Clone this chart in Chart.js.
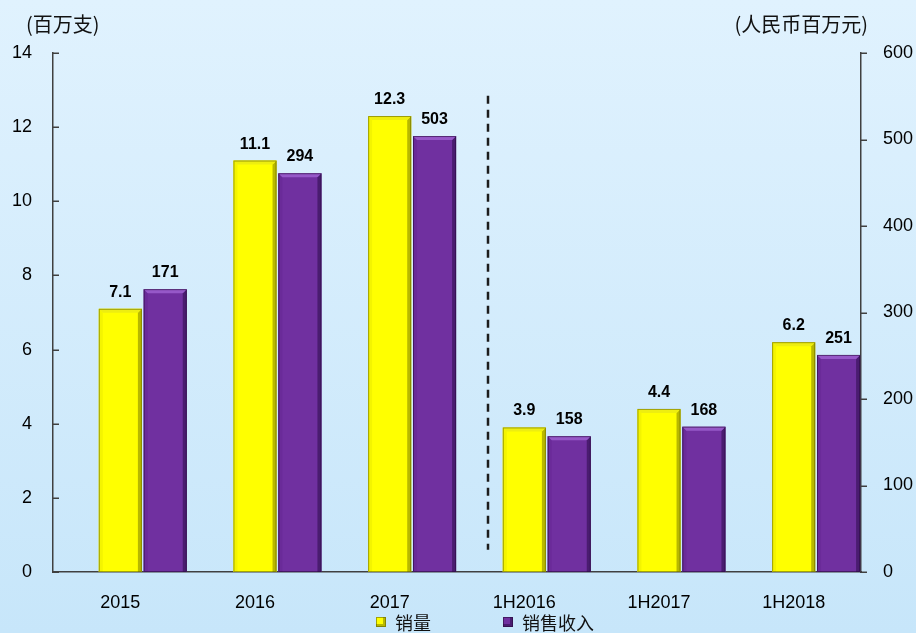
<!DOCTYPE html>
<html>
<head>
<meta charset="utf-8">
<script src="https://cdn.jsdelivr.net/npm/chart.js@4.4.0/dist/chart.umd.min.js"></script>
<style>
html, body { margin: 0; padding: 0; }
body { width: 916px; height: 633px; overflow: hidden; background: linear-gradient(#e0f2fe, #c7e6fa); }
canvas { display: block; }
</style>
</head>
<body>
<canvas id="sales" width="916" height="633"></canvas>
<script>
// chart data
const categories = ['2015', '2016', '2017', '1H2016', '1H2017', '1H2018']
const volume = [7.1, 11.1, 12.3, 3.9, 4.4, 6.2]              // 百万支 (left axis)
const revenueBars = [327, 461, 504, 157, 168, 251]          // bar heights as drawn (right axis)
const revenueLabels = ['171', '294', '503', '158', '168', '251']
const seriesNames = ['销量', '销售收入']
const axisTitles = ['(百万支)', '(人民币百万元)']
const leftMax = 14, leftStep = 2
const rightMax = 600, rightStep = 100

const latin = '"Liberation Sans", Arial, sans-serif'
const cjk = '"Noto Sans CJK SC", "Noto Sans", sans-serif'

const yellow = { base: '#ffff00', top: '#eeee10', left: '#f4f400', right: '#b8b800', edge: 'rgba(90,90,0,0.55)' }
const purple = { base: '#7030a0', top: '#9658c8', left: '#6a2b99', right: '#4a1c70', edge: 'rgba(40,10,60,0.6)' }

// draws a simple chamfer on a bar so it looks like the bevelled bars in the original
function bevel(ctx, el, c) {
    const p = el.getProps(['x', 'y', 'base', 'width'], true)
    const L = p.x - p.width / 2, R = p.x + p.width / 2, T = p.y, B = p.base, b = 4
    if (B - T < 2) return
    ctx.save()
    ctx.fillStyle = c.left
    ctx.beginPath(); ctx.moveTo(L, T); ctx.lineTo(L + b, T + b); ctx.lineTo(L + b, B); ctx.lineTo(L, B); ctx.fill()
    ctx.fillStyle = c.right
    ctx.beginPath(); ctx.moveTo(R, T); ctx.lineTo(R - b, T + b); ctx.lineTo(R - b, B); ctx.lineTo(R, B); ctx.fill()
    ctx.fillStyle = c.top
    ctx.beginPath(); ctx.moveTo(L, T); ctx.lineTo(R, T); ctx.lineTo(R - b, T + b); ctx.lineTo(L + b, T + b); ctx.fill()
    ctx.strokeStyle = c.edge
    ctx.lineWidth = 1
    ctx.strokeRect(L + 0.5, T + 0.5, R - L - 1, B - T - 1)
    ctx.restore()
}

const decor = {
    id: 'decor',
    afterDatasetsDraw(chart) {
        const ctx = chart.ctx
        const yMeta = chart.getDatasetMeta(1)
        const pMeta = chart.getDatasetMeta(2)
        yMeta.data.forEach(el => bevel(ctx, el, yellow))
        pMeta.data.forEach(el => bevel(ctx, el, purple))

        // value labels
        ctx.save()
        ctx.font = 'bold 16px ' + latin
        ctx.fillStyle = '#000'
        ctx.textAlign = 'center'
        ctx.textBaseline = 'alphabetic'
        yMeta.data.forEach((el, i) => ctx.fillText(volume[i].toFixed(1), el.x, el.y - 12))
        pMeta.data.forEach((el, i) => ctx.fillText(revenueLabels[i], el.x, el.y - 12))
        ctx.restore()
    },
    afterDraw(chart) {
        const ctx = chart.ctx
        const x = chart.scales.x, yl = chart.scales.y, yr = chart.scales.y1

        // tick marks: inside on the left axis, outside on the right axis
        ctx.save()
        ctx.strokeStyle = '#404040'
        ctx.lineWidth = 1.5
        yl.ticks.forEach((t, i) => {
            const py = Math.round(yl.getPixelForTick(i)) + 0.25
            ctx.beginPath(); ctx.moveTo(yl.right, py); ctx.lineTo(yl.right + 6, py); ctx.stroke()
        })
        yr.ticks.forEach((t, i) => {
            const py = Math.round(yr.getPixelForTick(i)) + 0.25
            ctx.beginPath(); ctx.moveTo(yr.left, py); ctx.lineTo(yr.left + 6, py); ctx.stroke()
        })

        // dashed divider between annual and half-year figures
        const p2 = x.getPixelForValue(2), p3 = x.getPixelForValue(3)
        const dx = Math.round(p2 + 0.728 * (p3 - p2))
        ctx.strokeStyle = '#1c1c1c'
        ctx.lineWidth = 2.5
        ctx.setLineDash([8, 6])
        ctx.beginPath()
        ctx.moveTo(dx, yl.getPixelForValue(12.85))
        ctx.lineTo(dx, yl.getPixelForValue(0.6))
        ctx.stroke()
        ctx.setLineDash([])

        // axis titles
        ctx.fillStyle = '#111'
        ctx.font = '20px ' + cjk
        ctx.textBaseline = 'middle'
        ctx.textAlign = 'left'
        ctx.fillText(axisTitles[0], 26, 24)
        ctx.textAlign = 'right'
        ctx.fillText(axisTitles[1], 868, 24)

        // legend
        const items = [[376, yellow], [503, purple]]
        ctx.font = '18px ' + cjk
        ctx.textAlign = 'left'
        items.forEach(([lx, c], i) => {
            ctx.fillStyle = c.base
            ctx.fillRect(lx, 617, 10, 10)
            ctx.fillStyle = c.right
            ctx.fillRect(lx + 7, 617, 3, 10)
            ctx.fillRect(lx, 624, 10, 3)
            ctx.strokeStyle = c.edge
            ctx.lineWidth = 1
            ctx.strokeRect(lx + 0.5, 617.5, 9, 9)
            ctx.fillStyle = '#111'
            ctx.fillText(seriesNames[i], lx + 19, 623)
        })
        ctx.restore()
    }
}

new Chart(document.getElementById('sales'), {
    type: 'bar',
    data: {
        labels: categories,
        datasets: [
            // empty slot so the yellow bar sits on the category centre
            { label: '', data: [], yAxisID: 'y' },
            { label: seriesNames[0], data: volume, yAxisID: 'y', backgroundColor: yellow.base },
            { label: seriesNames[1], data: revenueBars, yAxisID: 'y1', backgroundColor: purple.base }
        ]
    },
    options: {
        responsive: false,
        devicePixelRatio: 1,
        animation: false,
        categoryPercentage: 1.0,
        barPercentage: 0.96,
        layout: { padding: { top: 53, left: 0, right: 0, bottom: 0 } },
        plugins: { legend: { display: false }, tooltip: { enabled: false } },
        scales: {
            x: {
                grid: { display: false, drawTicks: false },
                border: { display: true, color: '#404040', width: 1.5 },
                ticks: { color: '#000', font: { family: latin, size: 18 }, padding: 20, maxRotation: 0 },
                afterFit: s => { s.height = 61 }
            },
            y: {
                position: 'left',
                min: 0, max: leftMax,
                grid: { display: false, drawTicks: false },
                border: { display: true, color: '#404040', width: 1.5 },
                ticks: { stepSize: leftStep, color: '#000', font: { family: latin, size: 18 }, padding: 21 },
                afterFit: s => { s.width = 53 }
            },
            y1: {
                position: 'right',
                min: 0, max: rightMax,
                grid: { display: false, drawTicks: false },
                border: { display: true, color: '#404040', width: 1.5 },
                ticks: { stepSize: rightStep, color: '#000', font: { family: latin, size: 18 }, padding: 22 },
                afterFit: s => { s.width = 55 }
            }
        }
    },
    plugins: [decor]
})
</script>
</body>
</html>
